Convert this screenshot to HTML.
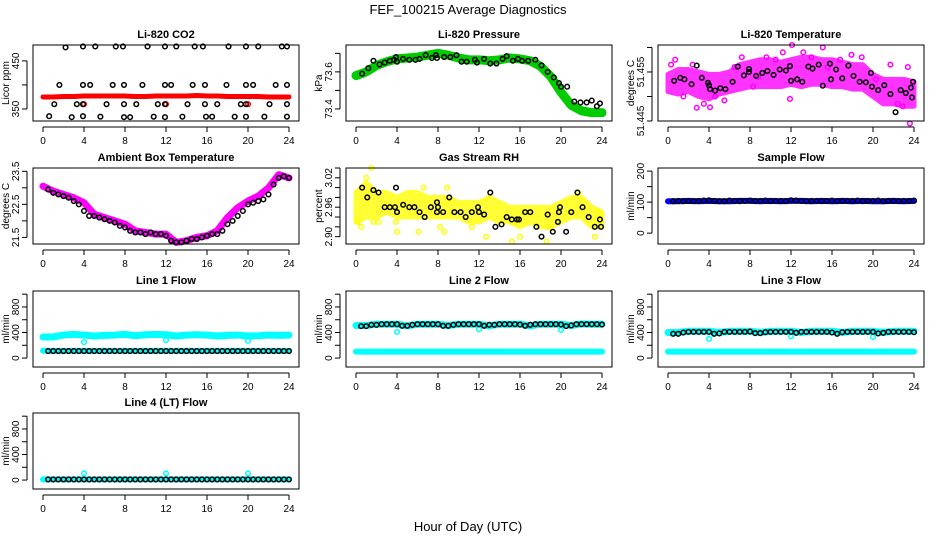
<!DOCTYPE html>
<html><head><meta charset="utf-8"><style>
html,body{margin:0;padding:0;background:#fff}
svg{display:block;font-family:"Liberation Sans",Arial,sans-serif}
</style></head><body>
<svg id="fig" width="936" height="540" viewBox="0 0 936 540">
<rect width="936" height="540" fill="#fff"/>
<text x="468" y="14" text-anchor="middle" font-size="13">FEF_100215  Average Diagnostics</text>
<text x="468" y="531" text-anchor="middle" font-size="13">Hour of Day (UTC)</text>
</svg>
<script>
// ---------- data ----------
const xTicks=[0,4,8,12,16,20,24];
const hours=[0,1,2,3,4,5,6,7,8,9,10,11,12,13,14,15,16,17,18,19,20,21,22,23,24];
const halfHours=[0.5,1,1.5,2,2.5,3,3.5,4,4.5,5,5.5,6,6.5,7,7.5,8,8.5,9,9.5,10,10.5,11,11.5,12,12.5,13,13.5,14,14.5,15,15.5,16,16.5,17,17.5,18,18.5,19,19.5,20,20.5,21,21.5,22,22.5,23,23.5,24];
// CO2
const co2Red=[375,375,376,376,377,377,377,377,377,376,376,377,377,377,377,378,377,377,376,376,376,376,375,375,375];
const co2RedExtraT=[4,12,20];
const co2RedExtraV=[360,360,360];
const co2BlackT=[2.2,3.9,5.1,7.1,7.8,10.2,11.9,13.0,14.8,15.6,18.1,19.8,21.0,23.3,23.8,1.6,3.9,4.6,6.8,7.9,9.7,11.9,12.5,14.6,15.8,17.9,19.8,20.5,22.7,23.8,1.1,3.3,3.9,6.2,7.9,9.1,11.2,11.9,14.1,15.8,17.0,19.3,19.8,22.1,23.8,0.6,2.8,3.9,5.6,7.9,8.5,10.8,11.9,13.6,15.9,16.5,18.7,19.8,21.6,23.8];
const co2BlackV=[478,480,480,480,480,480,480,480,480,480,480,480,480,480,480,400,400,400,400,400,400,400,400,400,400,400,400,400,400,400,360,360,360,360,360,360,360,360,360,360,360,360,360,360,360,335,333,335,334,333,333,334,333,334,334,334,334,334,334,334];
// Pressure
const presGreen=[73.58,73.60,73.635,73.655,73.67,73.675,73.68,73.69,73.70,73.69,73.675,73.665,73.665,73.66,73.665,73.675,73.67,73.66,73.63,73.575,73.49,73.42,73.39,73.38,73.38];
const presBlackT=[0.6,1.2,1.7,2.3,2.8,3.3,3.7,3.9,4.0,4.6,5.2,5.8,6.2,6.8,7.4,7.8,7.9,8.6,9.2,9.8,10.3,10.8,11.6,11.8,12.5,13.1,13.7,14.3,14.7,15.3,15.8,16.2,16.8,17.5,18.1,18.7,19.3,19.8,20.0,20.6,21.3,21.9,22.5,23.0,23.5,23.8];
const presBlackV=[73.59,73.62,73.66,73.64,73.65,73.66,73.665,73.68,73.655,73.67,73.665,73.665,73.67,73.69,73.675,73.69,73.675,73.68,73.68,73.69,73.655,73.655,73.665,73.65,73.67,73.645,73.645,73.67,73.685,73.66,73.67,73.66,73.66,73.665,73.635,73.60,73.57,73.54,73.52,73.52,73.44,73.435,73.435,73.445,73.415,73.43];
// Li-820 temperature
const tempHi=[51.4545,51.4555,51.4555,51.455,51.4545,51.4545,51.455,51.4565,51.457,51.4575,51.4575,51.457,51.4575,51.458,51.458,51.4575,51.4575,51.457,51.4565,51.4565,51.4545,51.4535,51.4535,51.4535,51.453];
const tempLo=[51.451,51.4505,51.451,51.450,51.4495,51.4505,51.451,51.4515,51.452,51.452,51.452,51.452,51.4525,51.452,51.4525,51.4525,51.452,51.452,51.4515,51.4515,51.450,51.4485,51.4485,51.448,51.448];
const tempMagT=[0.3,0.7,1.5,2.4,2.8,3.5,4.1,4.6,5.5,6.5,7.2,8.3,8.8,9.6,10.5,11.2,11.9,12.1,13.2,14.0,15.1,15.6,16.8,17.9,18.9,20.3,21.7,22.4,22.9,23.4,23.6];
const tempMagV=[51.4565,51.4575,51.4500,51.4565,51.4477,51.4485,51.4478,51.4500,51.4492,51.4560,51.4580,51.4520,51.4540,51.4580,51.4575,51.4590,51.4495,51.4605,51.4590,51.4580,51.4600,51.4560,51.4575,51.4585,51.4580,51.4535,51.4565,51.4485,51.4480,51.4560,51.4445];
const tempBlackT=[0.6,1.2,1.6,2.3,2.8,3.3,3.9,4.0,4.1,4.6,5.1,5.6,6.3,6.8,7.4,7.9,7.9,8.6,9.2,9.7,10.3,10.9,11.5,11.9,12.0,12.6,13.1,13.7,14.1,14.7,15.1,15.8,15.9,16.4,17.0,17.6,18.1,18.7,19.3,19.8,19.9,20.5,21.1,21.7,22.2,22.7,23.2,23.7,23.8,23.9];
const tempBlackV=[51.4532,51.4538,51.4535,51.4525,51.4563,51.4538,51.4528,51.4523,51.4515,51.4512,51.4517,51.4515,51.4530,51.4561,51.4543,51.4556,51.4550,51.4542,51.4548,51.4552,51.4544,51.4555,51.4553,51.4562,51.4532,51.4535,51.4530,51.4561,51.4557,51.4565,51.4522,51.4567,51.4535,51.4555,51.4537,51.4563,51.4542,51.4530,51.4529,51.4548,51.4520,51.4513,51.4523,51.4505,51.4468,51.4513,51.4507,51.4518,51.4498,51.4530];
// Ambient box temperature
const boxMag=[23.05,22.9,22.8,22.7,22.55,22.2,22.1,22.0,21.9,21.7,21.65,21.6,21.6,21.35,21.4,21.5,21.55,21.7,22.1,22.4,22.6,22.75,23.0,23.4,23.3];
const boxBlackV=[22.95,22.85,22.8,22.75,22.7,22.6,22.5,22.3,22.15,22.15,22.1,22.05,22.0,21.95,21.85,21.8,21.7,21.65,21.65,21.6,21.65,21.6,21.6,21.55,21.4,21.35,21.35,21.4,21.45,21.45,21.5,21.55,21.6,21.6,21.7,21.9,22.0,22.15,22.3,22.5,22.55,22.6,22.65,22.8,23.1,23.3,23.35,23.3];
// Gas stream RH
const rhHi=[2.99,3.01,2.99,2.99,2.98,2.99,2.99,2.98,2.98,2.98,2.97,2.97,2.97,2.98,2.97,2.96,2.96,2.96,2.96,2.96,2.97,2.98,2.98,2.96,2.95];
const rhLo=[2.93,2.94,2.94,2.95,2.94,2.94,2.94,2.94,2.94,2.94,2.94,2.93,2.93,2.94,2.93,2.93,2.92,2.93,2.92,2.92,2.93,2.94,2.94,2.92,2.92];
const rhYelT=[0.2,0.5,1.0,1.5,1.7,2.2,3.9,4.0,6.1,6.6,8.2,8.6,8.9,11.3,12.7,13.1,15.2,15.6,16.0,18.6,18.8,21.7,22.2,23.3,23.7];
const rhYelV=[2.93,2.92,3.02,3.04,2.93,2.93,2.93,2.91,2.91,3.00,2.92,2.91,3.00,2.92,2.90,2.99,2.89,2.93,2.90,2.89,2.92,2.99,2.96,2.90,2.95];
const rhBlackT=[0.6,1.1,1.7,2.2,2.8,3.3,3.8,3.9,4.0,4.6,5.2,5.7,6.2,6.7,7.3,7.9,7.9,8.0,8.5,9.1,9.6,10.2,10.7,11.3,11.9,12.0,12.5,13.1,13.6,14.2,14.7,15.2,15.7,15.9,16.5,17.0,17.6,18.1,18.7,19.2,19.7,19.8,19.9,20.5,21.0,21.6,22.1,22.7,23.3,23.8,23.9];
const rhBlackV=[3.00,2.98,2.995,2.99,2.96,2.96,2.96,3.00,2.95,2.965,2.96,2.96,2.95,2.94,2.96,2.97,2.95,2.96,2.95,2.98,2.95,2.95,2.94,2.95,2.96,2.95,2.945,2.99,2.92,2.925,2.94,2.935,2.935,2.935,2.95,2.95,2.92,2.90,2.945,2.91,2.93,2.95,2.96,2.91,2.95,2.99,2.96,2.94,2.92,2.935,2.92];
// Sample flow
const sampleBlue=[103,103,104,103,104,103,103,104,104,103,104,103,104,104,103,104,103,104,103,104,103,103,104,103,104];
const sampleBlack=[103,104,103,104,103,104,105,106,104,103,103,105,104,103,104,105,104,104,105,103,104,104,103,106,105,104,103,104,104,103,104,105,103,104,104,104,105,103,104,104,105,103,104,104,103,104,104,105];
// Line flows
const l1Upper=[330,330,360,370,360,345,355,360,370,350,365,370,365,345,360,365,360,345,355,360,345,350,360,355,360];
const l1DipT=[4,12,20];
const l1DipV=[250,280,270];
const l1Black=[110,110,110,110,110,110,110,110,110,110,110,110,110,110,110,110,110,110,110,110,110,110,110,110,110,110,110,110,110,110,110,110,110,110,110,110,110,110,110,110,110,110,110,110,110,110,110,110];
const l1Lower=[115,112,112,112,112,112,112,112,112,112,112,112,112,112,112,112,112,112,112,112,112,112,112,112,112];
const l2Upper=[510,510,530,530,530,505,530,530,530,510,530,530,530,505,530,530,530,505,530,530,530,510,535,530,530];
const l2Black=[500,500,520,520,530,530,530,530,505,505,520,530,530,530,530,530,505,505,520,530,530,530,530,530,505,520,520,530,530,530,530,525,505,520,530,530,530,530,530,525,500,510,530,530,530,530,530,525];
const l2DipT=[4,12,20];
const l2DipV=[410,450,440];
const lowerCyan=[100,100,100,100,100,100,100,100,100,100,100,100,100,100,100,100,100,100,100,100,100,100,100,100,100];
const l3Upper=[400,400,420,420,420,400,420,420,420,400,420,420,420,400,420,420,420,400,420,420,420,400,420,420,420];
const l3Black=[380,380,400,410,410,410,410,410,380,385,410,410,410,410,410,415,390,390,405,410,410,410,410,410,395,410,410,410,410,410,410,400,380,405,410,410,410,410,410,410,385,395,410,410,410,410,410,405];
const l3DipT=[4,12,20];
const l3DipV=[300,340,330];
const l4Cyan=[10,10,10,10,10,10,10,10,10,10,10,10,10,10,10,10,10,10,10,10,10,10,10,10,10];
const l4DipT=[4,12,20];
const l4DipV=[105,105,105];
const l4Black=[10,10,10,10,10,10,10,10,10,10,10,10,10,10,10,10,10,10,10,10,10,10,10,10,10,10,10,10,10,10,10,10,10,10,10,10,10,10,10,10,10,10,10,10,10,10,10,10];

// ---------- helpers ----------
const NS='http://www.w3.org/2000/svg';
const svg=document.getElementById('fig');
function mk(tag,attrs,parent){const e=document.createElementNS(NS,tag);for(const k in attrs)e.setAttribute(k,attrs[k]);parent.appendChild(e);return e;}
const colX=[33,346,658], rowY=[45,168,291,413], W=266, H=76;

function panel(id,col,row,title,ylab,ylim,ticks,labels){
  const L=colX[col], T=rowY[row];
  const g=mk('g',{},svg);
  
  
  const sx=t=>L+10+t*246/24;
  const sy=v=>T+H-(v-ylim[0])/(ylim[1]-ylim[0])*H;
  const data=mk('g',{},g);
  
  
  const box=mk('rect',{x:L,y:T,width:W,height:H,fill:'none',stroke:'#000','stroke-width':1},g);
  
  
  const tt=mk('text',{x:L+W/2,y:T-7,'text-anchor':'middle','font-size':11,'font-weight':'bold'},g);
  tt.textContent=title;
  
  
  // x axis
  const xa=mk('g',{},g);
  
  
  mk('line',{x1:sx(0),x2:sx(24),y1:T+H+6,y2:T+H+6,stroke:'#000'},xa);
  xTicks.forEach(v=>{
    mk('line',{x1:sx(v),x2:sx(v),y1:T+H+6,y2:T+H+11,stroke:'#000'},xa);
    const tl=mk('text',{x:sx(v),y:T+H+23,'text-anchor':'middle','font-size':10},xa);
    tl.textContent=v;
    
    
  });
  // y axis
  const ya=mk('g',{},g);
  
  
  mk('line',{x1:L-6,x2:L-6,y1:sy(ticks[0]),y2:sy(ticks[ticks.length-1]),stroke:'#000'},ya);
  ticks.forEach((v,i)=>{
    mk('line',{x1:L-11,x2:L-6,y1:sy(v),y2:sy(v),stroke:'#000'},ya);
    if(labels[i]){
      const tl=mk('text',{x:L-14,y:sy(v),'text-anchor':'middle','font-size':10,transform:`rotate(-90 ${L-14} ${sy(v)})`},ya);
      tl.textContent=labels[i];
      
      
    }
  });
  const yl=mk('text',{x:L-24,y:T+H/2,'text-anchor':'middle','font-size':10,transform:`rotate(-90 ${L-24} ${T+H/2})`},g);
  yl.textContent=ylab;
  
  
  return {g:data,sx,sy};
}
function pts(p,ts,vs,color,r,sw,name){
  ts.forEach((t,i)=>{
    const c=mk('circle',{cx:p.sx(t),cy:p.sy(vs[i]),r:r,fill:'none',stroke:color,'stroke-width':sw},p.g);
    
    
  });
}
function band(p,ts,vs,color,w,name){
  const l=mk('polyline',{points:ts.map((t,i)=>p.sx(t)+','+p.sy(vs[i])).join(' '),fill:'none',stroke:color,'stroke-width':w,'stroke-linejoin':'round','stroke-linecap':'round'},p.g);
  
  
}
function area(p,ts,lo,hi,color,name){
  const up=ts.map((t,i)=>p.sx(t)+','+p.sy(hi[i]));
  const dn=ts.map((t,i)=>p.sx(t)+','+p.sy(lo[i])).reverse();
  const a=mk('polygon',{points:up.concat(dn).join(' '),fill:color,stroke:color,'stroke-width':5,'stroke-linejoin':'round'},p.g);
  
  
}

// ---------- panels ----------
let p;
p=panel('co2',0,0,'Li-820 CO2','Licor ppm',[325,483],[350,400,450],['350','','450']);
band(p,hours,co2Red,'#ff0000',5,'co2-series');
pts(p,co2RedExtraT,co2RedExtraV,'#ff0000',2.3,1.5,'co2-point');
pts(p,co2BlackT,co2BlackV,'#000',2.3,1.5,'co2-average-point');

p=panel('pressure',1,0,'Li-820 Pressure','kPa',[73.335,73.745],[73.4,73.5,73.6,73.7],['73.4','','73.6','']);
band(p,hours,presGreen,'#00cc00',9,'pressure-series');
pts(p,presBlackT,presBlackV,'#000',2.3,1.5,'pressure-average-point');

p=panel('li820-temp',2,0,'Li-820 Temperature','degrees C',[51.445,51.4605],[51.445,51.45,51.455,51.46],['51.445','','51.455','']);
area(p,hours,tempLo,tempHi,'#ff33ff','li820-temp-series');
pts(p,tempMagT,tempMagV,'#ff00ff',2.3,1.5,'li820-temp-point');
pts(p,tempBlackT,tempBlackV,'#000',2.3,1.5,'li820-temp-average-point');

p=panel('box-temp',0,1,'Ambient Box Temperature','degrees C',[21.3,23.6],[21.5,22,22.5,23,23.5],['21.5','','22.5','','23.5']);
band(p,hours,boxMag,'#ff00ff',7,'box-temp-series');
pts(p,halfHours,boxBlackV,'#000',2.3,1.5,'box-temp-average-point');

p=panel('rh',1,1,'Gas Stream RH','percent',[2.885,3.04],[2.90,2.92,2.94,2.96,2.98,3.00,3.02,3.04],['2.90','','','2.96','','','3.02','']);
area(p,hours,rhLo,rhHi,'#ffff33','rh-series');
pts(p,rhYelT,rhYelV,'#ffff00',2.3,1.5,'rh-point');
pts(p,rhBlackT,rhBlackV,'#000',2.3,1.5,'rh-average-point');

p=panel('sample-flow',2,1,'Sample Flow','ml/min',[-35,210],[0,50,100,150,200],['0','','100','','200']);
band(p,hours,sampleBlue,'#0000ff',6,'sample-flow-series');
pts(p,halfHours,sampleBlack,'#000',2.3,1.5,'sample-flow-average-point');

const fl=[-140,1050], ft=[0,200,400,600,800,1000], fll=['0','','400','','800',''];
p=panel('line1',0,2,'Line 1 Flow','ml/min',fl,ft,fll);
band(p,hours,l1Upper,'#00ffff',7,'line1-upper-series');
pts(p,l1DipT,l1DipV,'#00ffff',2.3,1.5,'line1-dip-point');
band(p,hours,l1Lower,'#00ffff',6,'line1-lower-series');
pts(p,halfHours,l1Black,'#000',2.3,1.5,'line1-average-point');

p=panel('line2',1,2,'Line 2 Flow','ml/min',fl,ft,fll);
band(p,hours,l2Upper,'#00ffff',7,'line2-upper-series');
band(p,hours,lowerCyan,'#00ffff',6,'line2-lower-series');
pts(p,l2DipT,l2DipV,'#00ffff',2.3,1.5,'line2-dip-point');
pts(p,halfHours,l2Black,'#000',2.3,1.5,'line2-average-point');

p=panel('line3',2,2,'Line 3 Flow','ml/min',fl,ft,fll);
band(p,hours,l3Upper,'#00ffff',7,'line3-upper-series');
band(p,hours,lowerCyan,'#00ffff',6,'line3-lower-series');
pts(p,l3DipT,l3DipV,'#00ffff',2.3,1.5,'line3-dip-point');
pts(p,halfHours,l3Black,'#000',2.3,1.5,'line3-average-point');

p=panel('line4',0,3,'Line 4 (LT) Flow','ml/min',[-140,1050],ft,fll);
band(p,hours,l4Cyan,'#00ffff',6,'line4-series');
pts(p,l4DipT,l4DipV,'#00ffff',2.3,1.5,'line4-dip-point');
pts(p,halfHours,l4Black,'#000',2.3,1.5,'line4-average-point');
</script>
</body></html>
